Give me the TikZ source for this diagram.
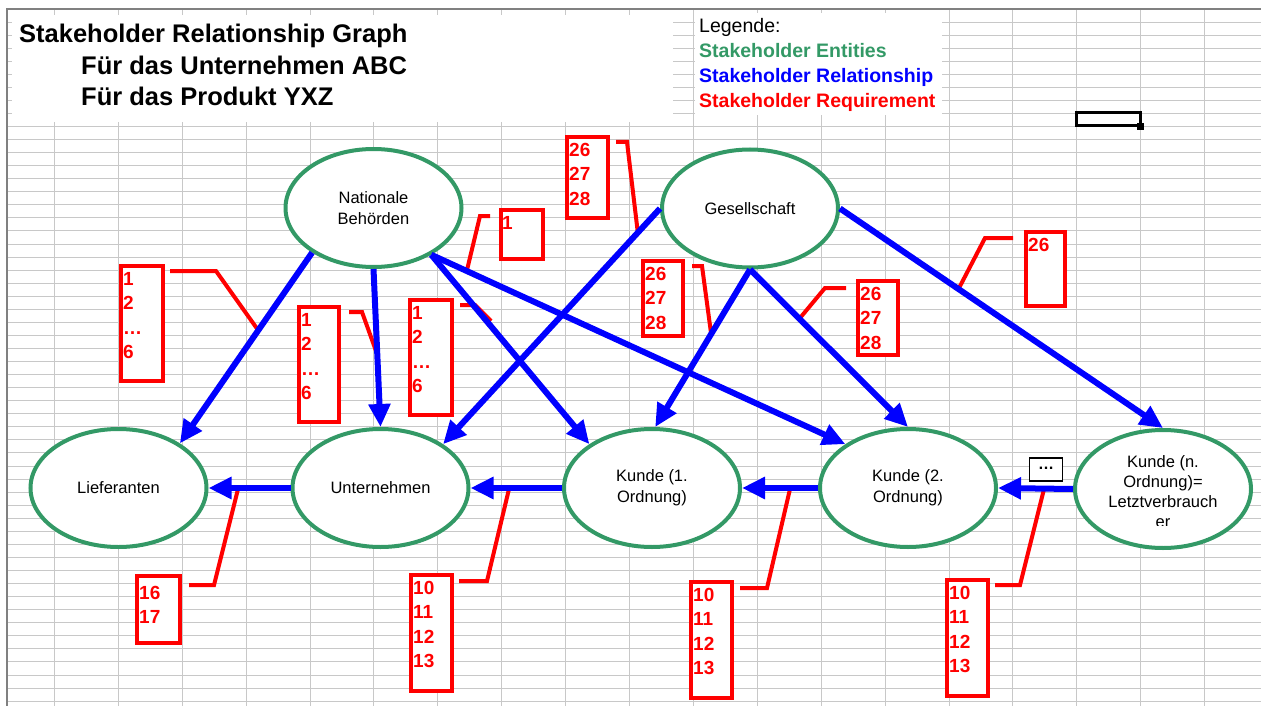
\documentclass[tikz,border=0pt]{standalone}
\usepackage{fontspec}
\setmainfont{Liberation Sans}
\usetikzlibrary{shapes.geometric, arrows.meta, calc}

\definecolor{gridgray}{RGB}{200,200,200}
\definecolor{framegray}{RGB}{128,128,128}
\definecolor{entgreen}{RGB}{51,153,102}
\definecolor{relblue}{RGB}{0,0,255}
\definecolor{reqred}{RGB}{255,0,0}

\tikzset{
  gridline/.style={draw=gridgray, line width=1pt},
  entity/.style={ellipse, draw=entgreen, line width=4pt, fill=white,
    minimum width=176pt, minimum height=118pt, inner sep=0pt},
  entitytext/.style={font=\fontsize{16.5}{21}\selectfont, align=center, inner sep=0pt},
  relarrow/.style={draw=relblue, line width=6pt, -{Triangle[length=23pt,width=21pt]}},
  reqbox/.style={draw=reqred, line width=4pt, fill=white, inner sep=0pt,
    anchor=north west},
  reqtext/.style={text=reqred, font=\bfseries\fontsize{19}{24.5}\selectfont,
    align=left, inner sep=0pt, anchor=north west},
  reqline/.style={draw=reqred, line width=4pt},
  titletext/.style={font=\bfseries\fontsize{25.5}{31}\selectfont, anchor=base west, inner sep=0pt},
  legendtext/.style={font=\fontsize{19.5}{25}\selectfont, anchor=base west, inner sep=0pt},
}

\begin{document}
\begin{tikzpicture}[x=1pt, y=-1pt]
  \useasboundingbox (0,0) rectangle (1261,706);
  \fill[white] (0,0) rectangle (1261,706);

  % spreadsheet grid, snapped to whole pixels
  \foreach \j in {0,...,18} {
    \pgfmathsetmacro\gx{round(54+63.9*\j)+0.5}
    \draw[gridline] (\gx,9) -- (\gx,706);
  }
  \foreach \k in {-8,...,44} {
    \pgfmathsetmacro\gy{round(126+13.06*\k)+0.5}
    \draw[gridline] (7,\gy) -- (1261,\gy);
  }
  \draw[framegray, line width=2pt] (7,706) -- (7,9) -- (1261,9);

  % title block
  \fill[white] (12,15) rectangle (673,122);
  \node[titletext] (t1) at (19,43) {Stakeholder Relationship Graph};
  \node[titletext] (t2) at (81,74.5) {Für das Unternehmen ABC};
  \node[titletext] (t3) at (81,105.5) {Für das Produkt YXZ};

  % legend block
  \fill[white] (695,13) rectangle (942,115);
  \node[legendtext] (lg0) at (699,33) {Legende:};
  \node[legendtext, text=entgreen] (lg1) at (699,57.5) {\bfseries Stakeholder Entities};
  \node[legendtext, text=relblue] (lg2) at (699,83) {\bfseries Stakeholder Relationship};
  \node[legendtext, text=reqred] (lg3) at (699,107.5) {\bfseries Stakeholder Requirement};

  % selected cell marker
  \draw[black, line width=3pt] (1076,113) rectangle (1140,126);
  \fill[black] (1137,123) rectangle (1144,130);

  % stakeholder entities
  \node[entity] (nb) at (373.5,208) {};
  \node[entitytext] (nbt) at (nb) {Nationale\\Behörden};
  \node[entity] (gs) at (750,208.5) {};
  \node[entitytext] (gst) at (gs) {Gesellschaft};
  \node[entity] (lf) at (118.5,488) {};
  \node[entitytext] (lft) at (lf) {Lieferanten};
  \node[entity] (un) at (380.5,488) {};
  \node[entitytext] (unt) at (un) {Unternehmen};
  \node[entity] (k1) at (652,488) {};
  \node[entitytext] (k1t) at (k1) {Kunde (1.\\Ordnung)};
  \node[entity] (k2) at (908,488) {};
  \node[entitytext] (k2t) at (k2) {Kunde (2.\\Ordnung)};
  \node[entity] (kn) at (1163,489) {};
  \begin{scope}
    \clip (1080,440) rectangle (1250,525);
    \node[entitytext, font=\fontsize{16.5}{20}\selectfont] (knt) at (1163,492)
      {Kunde (n.\\Ordnung)=\\Letztverbrauch\\er};
  \end{scope}

  % requirement boxes
  \node[reqbox, minimum width=42pt, minimum height=115pt] (rA) at (119,264) {};
  \node[reqtext] (rAt) at (123,272) {1\\2\\…\\6};
  \node[reqbox, minimum width=40pt, minimum height=115pt] (rB) at (297,305) {};
  \node[reqtext] (rBt) at (301,313) {1\\2\\…\\6};
  \node[reqbox, minimum width=42pt, minimum height=115pt] (rC) at (408,298) {};
  \node[reqtext] (rCt) at (412,306) {1\\2\\…\\6};
  \node[reqbox, minimum width=42pt, minimum height=49pt] (rD) at (499,208) {};
  \node[reqtext] (rDt) at (502,216) {1};
  \node[reqbox, minimum width=41pt, minimum height=81pt] (rE) at (565,135) {};
  \node[reqtext] (rEt) at (569,143) {26\\27\\28};
  \node[reqbox, minimum width=40pt, minimum height=75pt] (rF) at (641,259) {};
  \node[reqtext] (rFt) at (645,267) {26\\27\\28};
  \node[reqbox, minimum width=40pt, minimum height=74pt] (rG) at (856,279) {};
  \node[reqtext] (rGt) at (860,287) {26\\27\\28};
  \node[reqbox, minimum width=39pt, minimum height=74pt] (rH) at (1024,230) {};
  \node[reqtext] (rHt) at (1028,238) {26};
  \node[reqbox, minimum width=43pt, minimum height=67pt] (rI) at (135,574) {};
  \node[reqtext] (rIt) at (139,586) {16\\17};
  \node[reqbox, minimum width=41pt, minimum height=116pt] (rJ) at (409,573) {};
  \node[reqtext] (rJt) at (413,581) {10\\11\\12\\13};
  \node[reqbox, minimum width=41pt, minimum height=116pt] (rK) at (689,580) {};
  \node[reqtext] (rKt) at (693,588) {10\\11\\12\\13};
  \node[reqbox, minimum width=41pt, minimum height=116pt] (rL) at (945,578) {};
  \node[reqtext] (rLt) at (949,586) {10\\11\\12\\13};

  % points where requirement leaders meet their relationship
  \coordinate (cA) at (258,330);
  \coordinate (cB) at (376,351);
  \coordinate (cC) at (491,321);
  \coordinate (cD) at (467,270);
  \coordinate (cE) at (638,234);
  \coordinate (cF) at (711,333);
  \coordinate (cG) at (800,318);
  \coordinate (cH) at (958,290);
  \coordinate (cI) at (238,489);
  \coordinate (cJ) at (509,489);
  \coordinate (cK) at (790,489);
  \coordinate (cL) at (1044,489);

  % requirement leaders
  \draw[reqline] ($(rA.north east)+(5,7)$) -- (216,271) -- (cA);
  \draw[reqline] ($(rB.north east)+(8,7)$) -- (362,312) -- (cB);
  \draw[reqline] ($(rC.north east)+(6,7)$) -- (475,305) -- (cC);
  \draw[reqline] ($(rD.north west)+(-9,8)$) -- (480,216) -- (cD);
  \draw[reqline] ($(rE.north east)+(6,7)$) -- (627,142) -- (cE);
  \draw[reqline] ($(rF.north east)+(7,7)$) -- (702,266) -- (cF);
  \draw[reqline] ($(rG.north west)+(-10,9)$) -- (825,288) -- (cG);
  \draw[reqline] ($(rH.north west)+(-11,8)$) -- (985,238) -- (cH);
  \draw[reqline] ($(rI.north east)+(7,11)$) -- (214,585) -- (cI);
  \draw[reqline] ($(rJ.north east)+(5,8)$) -- (487,581) -- (cJ);
  \draw[reqline] ($(rK.north east)+(6,8)$) -- (767,588) -- (cK);
  \draw[reqline] ($(rL.north east)+(5,7)$) -- (1020,585) -- (cL);

  % stakeholder relationships
  \draw[relarrow] (nb.216) -- (lf.36);
  \draw[relarrow] (nb.south) -- (un.north);
  \draw[relarrow] (nb.321) -- (k1.145);
  \draw[relarrow] (nb.321) -- (k2.145);
  \draw[relarrow] (gs.west) -- (un.35);
  \draw[relarrow] (gs.south) -- (k1.87);
  \draw[relarrow] (gs.south) -- (k2.north);
  \draw[relarrow] (gs.east) -- (kn.north);
  \draw[relarrow] (un.west) -- (lf.east);
  \draw[relarrow] (k1.west) -- (un.east);
  \draw[relarrow] (k2.west) -- (k1.east);
  \draw[relarrow] (kn.west) -- (k2.east);

  % continuation marker between the last two customer levels
  \node[draw=black, line width=1.5pt, fill=white, minimum width=33pt, minimum height=23pt,
        inner sep=0pt, font=\bfseries\fontsize{16}{16}\selectfont] (dots) at (1046,469.5) {\raisebox{2pt}{…}};
\end{tikzpicture}
\end{document}
